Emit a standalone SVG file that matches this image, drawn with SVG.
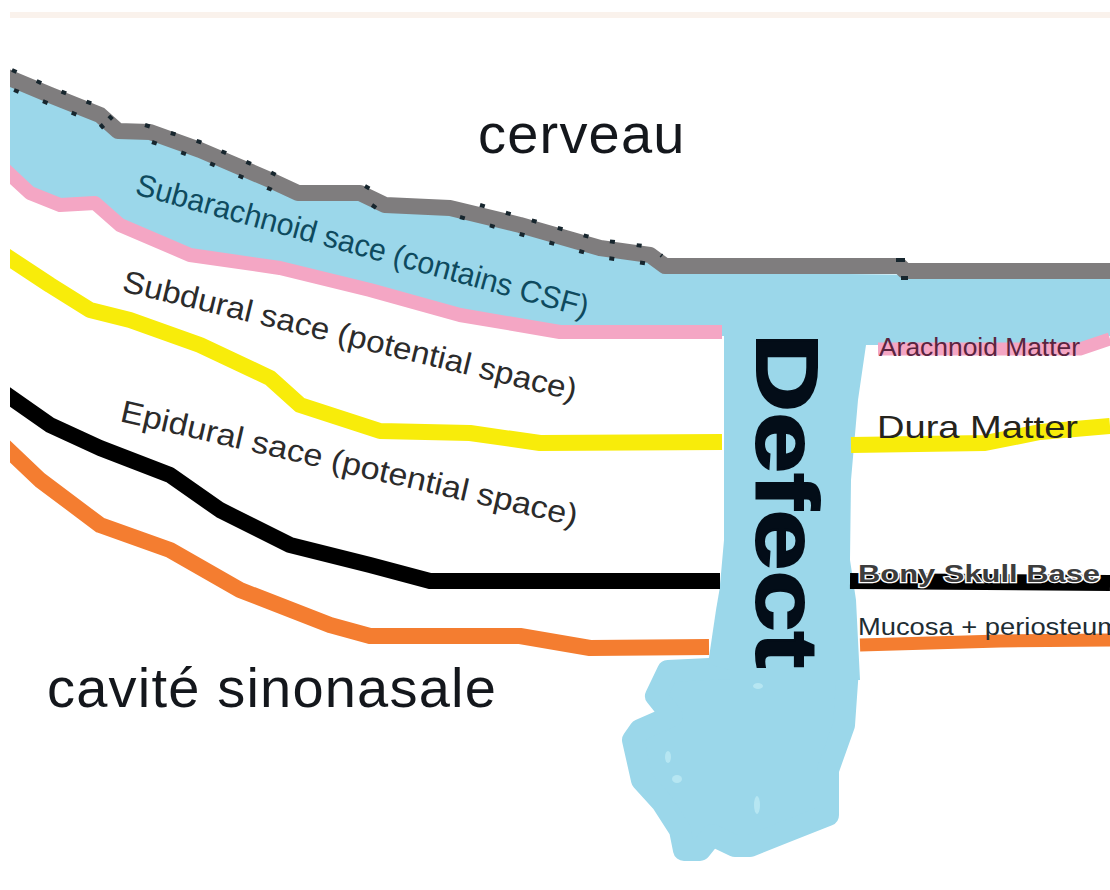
<svg xmlns="http://www.w3.org/2000/svg" width="1110" height="890" viewBox="0 0 1110 890">
  <style>
    text { font-family: "Liberation Sans", Arial, sans-serif; }
    .layer { fill: none; stroke-linecap: butt; stroke-linejoin: round; }
    .big { font-size: 56px; fill: #14171c; letter-spacing: 1.2px; }
    .slanted { font-size: 31px; fill: #2b2b2b; }
    .fleck { fill: #b6e6f2; }
  </style>
  <defs>
    <clipPath id="sheet"><rect x="10" y="0" width="1100" height="890"/></clipPath>
  </defs>

  <rect width="1110" height="890" fill="#ffffff"/>
  <rect x="10" y="12" width="1100" height="6" fill="#faf2ec"/>

  <g clip-path="url(#sheet)">
    <!-- cerebrospinal fluid between pia and arachnoid, running down through the defect -->
    <g id="csf" fill="#9bd7ea">
      <path d="M0 80 L50 100 L100 120 L115 135 L150 137 L200 155 L270 185 L295 197 L360 198 L385 210 L450 213 L520 230 L600 253 L650 260 L665 272 L1110 277 L1110 336 L1080 345 L880 345 L866 345 L858 400 L851 480 L850 560 L856 600 L860 680 L724 680 L720 585 L724 540 L724 336 L560 335 L460 318 L370 292 L280 270 L190 257 L120 227 L95 205 L60 207 L30 197 L0 168 Z"/>
      <!-- lumpy pool where the leak spreads below the mucosa -->
      <path stroke="#9bd7ea" stroke-width="22" stroke-linejoin="round" d="M848 668 L844 725 L828 770 L828 815 L790 830 L750 846 L735 846 L712 835 L700 850 L684 850 L680 830 L662 802 L642 780 L633 740 L640 730 L672 716 L656 696 L668 671 L730 668 Z"/>
      <path d="M708 664 L716 610 L722 575 L730 575 L730 670 Z"/>
      <ellipse class="fleck" cx="668" cy="757" rx="3" ry="6"/>
      <ellipse class="fleck" cx="677" cy="779" rx="5" ry="4"/>
      <ellipse class="fleck" cx="757" cy="805" rx="3" ry="9"/>
      <ellipse class="fleck" cx="758" cy="686" rx="5" ry="3"/>
    </g>

    <g id="pia-mater">
      <path class="layer" stroke="#7f7d7e" stroke-width="16" d="M0 74 L50 95 L100 115 L118 131 L150 132 L200 150 L270 180 L298 193 L360 193 L385 205 L450 208 L520 225 L600 248 L650 255 L665 266 L900 266 L905 271 L1110 271"/>
      <path class="layer" stroke="#17262e" stroke-width="4" stroke-dasharray="5 22" d="M12 70 L50 87 L100 107 L115 122 M145 125 L200 142 L270 172 L295 184 M365 186 L385 197 M480 205 L520 217 L600 240 L650 247 L662 256"/>
      <path class="layer" stroke="#17262e" stroke-width="4" stroke-dasharray="5 26" d="M14 90 L50 104 L100 124 L112 138 M152 142 L200 159 L270 189 L295 200 M372 205 L385 214 M460 217 L520 234 L600 257 L650 264 L662 274"/>
      <path class="layer" stroke="#17262e" stroke-width="4" d="M896 260 L905 260 M901 278 L908 278"/>
    </g>

    <g id="arachnoid-mater">
      <path class="layer" stroke="#f4a6c4" stroke-width="14" d="M0 165 L30 193 L60 205 L95 203 L120 225 L190 255 L280 268 L370 290 L460 315 L560 332 L722 332"/>
      <path class="layer" stroke="#f4a6c4" stroke-width="13" d="M878 349 L1080 349 L1110 339"/>
    </g>

    <g id="dura-mater">
      <path class="layer" stroke="#f8ec0a" stroke-width="16" d="M0 252 L50 285 L90 310 L130 320 L200 345 L270 378 L300 405 L380 431 L470 433 L540 443 L722 442"/>
      <path class="layer" stroke="#f8ec0a" stroke-width="16" d="M851 445 L985 443 L1040 432 L1110 426"/>
    </g>

    <g id="skull-base">
      <path class="layer" stroke="#000000" stroke-width="16" d="M0 390 L50 425 L100 448 L170 475 L220 510 L290 545 L370 565 L430 581 L720 581"/>
      <path class="layer" stroke="#000000" stroke-width="16" d="M850 581 L1110 583"/>
    </g>

    <g id="mucosa">
      <path class="layer" stroke="#f47d30" stroke-width="16" d="M0 442 L40 480 L100 525 L170 550 L240 590 L330 625 L370 636 L520 636 L590 648 L709 647"/>
      <path class="layer" stroke="#f47d30" stroke-width="13" d="M860 645 L1000 641 L1110 640"/>
    </g>
  </g>

  <g id="region-labels">
    <text class="big" x="478" y="153">cerveau</text>
    <text class="big" x="47" y="707">cavité sinonasale</text>
  </g>

  <g id="space-labels">
    <text class="slanted" transform="translate(134 194) rotate(15.3)" style="fill:#0e4a5e" textLength="468" lengthAdjust="spacingAndGlyphs">Subarachnoid sace (contains CSF)</text>
    <text class="slanted" transform="translate(121 291) rotate(13.6)" textLength="466" lengthAdjust="spacingAndGlyphs">Subdural sace (potential space)</text>
    <text class="slanted" transform="translate(119 421) rotate(13)" textLength="468" lengthAdjust="spacingAndGlyphs">Epidural sace (potential space)</text>
  </g>

  <g id="layer-labels">
    <text x="879" y="356" font-size="25" fill="#5a2440" textLength="201" lengthAdjust="spacingAndGlyphs">Arachnoid Matter</text>
    <text x="877" y="438" font-size="32" fill="#26241c" textLength="201" lengthAdjust="spacingAndGlyphs">Dura Matter</text>
    <text x="858" y="582" font-size="24" font-weight="bold" fill="#3d3d3d" stroke="#ffffff" stroke-width="2.5" paint-order="stroke" textLength="242" lengthAdjust="spacingAndGlyphs">Bony Skull Base</text>
    <text x="858" y="635" font-size="23" fill="#1f2d33" textLength="262" lengthAdjust="spacingAndGlyphs">Mucosa + periosteum</text>
  </g>

  <g id="defect-label">
    <text transform="translate(757 333) rotate(90)" font-size="88" font-weight="bold" fill="#030d18" stroke="#030d18" stroke-width="2" textLength="335" lengthAdjust="spacingAndGlyphs">Defect</text>
  </g>
</svg>
